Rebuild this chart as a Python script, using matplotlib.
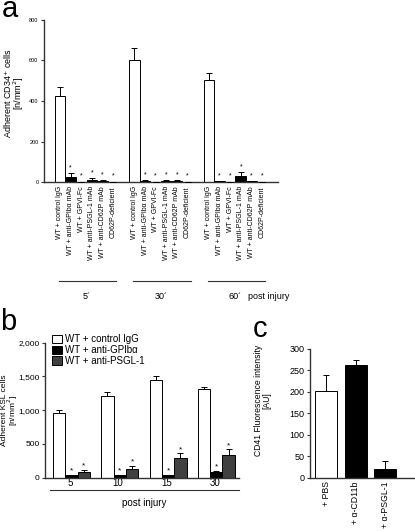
import matplotlib
matplotlib.use("Agg")
import matplotlib.pyplot as plt
import matplotlib.transforms as mtransforms
from matplotlib.ticker import FuncFormatter
from matplotlib.patches import Patch

plt.rcParams['font.family'] = ['Liberation Sans', 'DejaVu Sans']

# ---------------- data ----------------
# panel a
groups_a = ["5´", "30´", "60´"]
treat_a = ["WT + control IgG", "WT + anti-GPIbα mAb", "WT + GPVI-Fc",
           "WT + anti-PSGL-1 mAb", "WT + anti-CD62P mAb", "CD62P-deficient"]
vals_a = [[425, 25, 2, 12, 6, 2],
          [600, 5, 2, 5, 6, 2],
          [505, 3, 2, 30, 3, 2]]
errs_a = [[45, 18, 0, 8, 3, 0],
          [60, 3, 0, 4, 5, 0],
          [35, 0, 0, 18, 0, 0]]
colors_a = ["white", "black", "black", "black", "black", "black"]

# panel b
times_b = ["5´", "10´", "15´", "30´"]
series_b = ["WT + control IgG", "WT + anti-GPIbα", "WT + anti-PSGL-1"]
vals_b = [[953, 1215, 1442, 1309],
          [40, 40, 40, 79],
          [79, 128, 291, 336]]
errs_b = [[45, 50, 64, 34],
          [5, 5, 5, 20],
          [40, 45, 69, 84]]
colors_b = ["white", "black", "#404040"]
stars_b = [False, True, True]

# panel c
cats_c = ["+ PBS", "+ α-CD11b", "+ α-PSGL-1"]
vals_c = [201, 262, 20]
errs_c = [38, 12, 19]
colors_c = ["white", "black", "black"]

spine_col = "#333333"

fig = plt.figure(figsize=(4.15, 5.31), dpi=100)


def style_axes(ax):
    for s in ["top", "right"]:
        ax.spines[s].set_visible(False)
    for s in ["left", "bottom"]:
        ax.spines[s].set_color(spine_col)
        ax.spines[s].set_linewidth(1.0)
    ax.tick_params(axis="y", direction="out", length=2.5, width=0.8, color=spine_col, pad=1.5)
    ax.tick_params(axis="x", length=0)


# ---------------- panel a ----------------
axa = fig.add_axes([44/415, 1-182/531, (278-44)/415, 162/531])
style_axes(axa)
trans = mtransforms.blended_transform_factory(axa.transData, axa.transAxes)
xs_all, labels_all = [], []
for g in range(len(groups_a)):
    xs = [g*7 + i for i in range(len(treat_a))]
    axa.bar(xs, vals_a[g], width=1.0, color=colors_a, edgecolor="black", linewidth=0.7, zorder=2)
    axa.errorbar(xs, vals_a[g], yerr=[[0]*len(xs), errs_a[g]], fmt="none",
                 ecolor="black", elinewidth=0.7, capsize=2, capthick=0.7, zorder=3)
    for i in range(1, len(treat_a)):
        axa.text(xs[i], vals_a[g][i] + errs_a[g][i] + 26, "*", ha="center", va="center", fontsize=5)
    xs_all += xs
    labels_all += treat_a
    axa.plot([xs[0] - 0.1, xs[-1] + 0.3], [-0.611, -0.611], color=spine_col, lw=0.8,
             transform=trans, clip_on=False)
    axa.text((xs[0] + xs[-1]) / 2, -0.705, groups_a[g], transform=trans,
             ha="center", va="center", fontsize=6.5)
axa.text(17.7, -0.705, "post injury", transform=trans, ha="left", va="center", fontsize=6.5)
axa.set_xticks(xs_all)
axa.set_xticklabels(labels_all, rotation=90, fontsize=5)
axa.tick_params(axis="x", pad=3)
axa.set_xlim(-1.5, 20.5)
axa.set_ylim(0, 800)
axa.set_yticks([0, 200, 400, 600, 800])
axa.tick_params(axis="y", labelsize=4)
axa.set_ylabel("Adherent CD34$^{+}$ cells\n[n/mm$^{2}$]", fontsize=6.5, linespacing=0.8)
axa.yaxis.set_label_coords(-0.075, 0.55)
fig.text(2/415, 1-17/531, "a", fontsize=21, ha="left", va="baseline")

# ---------------- panel b ----------------
axb = fig.add_axes([45/415, 1-477.7/531, 194/415, 135/531])
style_axes(axb)
w = 0.255
offsets = [-w, 0, w]
handles = []
for s in range(len(series_b)):
    xs = [t + offsets[s] for t in range(len(times_b))]
    axb.bar(xs, vals_b[s], width=w, color=colors_b[s], edgecolor="black", linewidth=0.7, zorder=2)
    axb.errorbar(xs, vals_b[s], yerr=[[0]*len(xs), errs_b[s]], fmt="none",
                 ecolor="black", elinewidth=0.7, capsize=2, capthick=0.7, zorder=3)
    if stars_b[s]:
        for x, v, e in zip(xs, vals_b[s], errs_b[s]):
            axb.text(x, v + e + 55, "*", ha="center", va="center", fontsize=6)
    handles.append(Patch(facecolor=colors_b[s], edgecolor="black", linewidth=0.7, label=series_b[s]))
axb.set_xlim(-0.55, 3.47)
axb.set_ylim(0, 2000)
axb.set_yticks([0, 500, 1000, 1500, 2000])
axb.yaxis.set_major_formatter(FuncFormatter(lambda v, p: f"{int(v):,}"))
axb.tick_params(axis="y", labelsize=6)
axb.set_xticks(range(len(times_b)))
axb.set_xticklabels(times_b, fontsize=7)
axb.tick_params(axis="x", pad=0.5)
axb.set_ylabel("Adherent KSL cells\n[n/mm$^{2}$]", fontsize=6, linespacing=0.75)
axb.yaxis.set_label_coords(-0.13, 0.5)
transb = mtransforms.blended_transform_factory(axb.transData, axb.transAxes)
axb.plot([-0.45, 3.47], [-0.09, -0.09], color=spine_col, lw=0.8, transform=transb, clip_on=False)
axb.text(1.5, -0.19, "post injury", transform=transb, ha="center", va="center", fontsize=7)
axb.legend(handles=handles, loc="upper left", bbox_to_anchor=(0.035, 1.065), frameon=False,
           fontsize=7, handlelength=1.0, handleheight=0.9, handletextpad=0.4,
           labelspacing=0.1, borderpad=0, borderaxespad=0)
fig.text(0/415, 1-330/531, "b", fontsize=21, ha="left", va="baseline")

# ---------------- panel c ----------------
axc = fig.add_axes([310/415, 1-477.7/531, 104/415, 128.7/531])
style_axes(axc)
xc = list(range(len(cats_c)))
axc.bar(xc, vals_c, width=0.74, color=colors_c, edgecolor="black", linewidth=0.7, zorder=2)
axc.errorbar(xc, vals_c, yerr=[[0]*len(xc), errs_c], fmt="none",
             ecolor="black", elinewidth=0.7, capsize=2.5, capthick=0.7, zorder=3)
axc.set_xlim(-0.54, 2.96)
axc.set_ylim(0, 300)
axc.set_yticks([0, 50, 100, 150, 200, 250, 300])
axc.tick_params(axis="y", labelsize=6.5)
axc.set_xticks(xc)
axc.set_xticklabels(cats_c, rotation=90, fontsize=6.3)
axc.tick_params(axis="x", pad=2.5)
axc.set_ylabel("CD41 Fluorescence intensity\n[AU]", fontsize=6.2, linespacing=0.9)
axc.yaxis.set_label_coords(-0.375, 0.6)
fig.text(253/415, 1-337/531, "c", fontsize=21, ha="left", va="baseline")

fig.savefig("out.png", dpi=100)
